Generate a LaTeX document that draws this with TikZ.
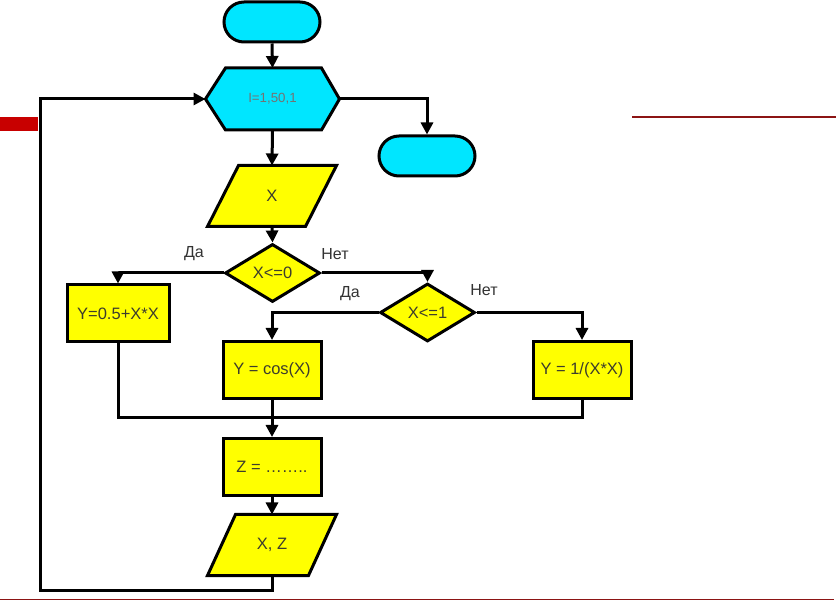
\documentclass[tikz,border=0pt]{standalone}
\usepackage{fontspec}
\setmainfont{Liberation Sans}
\usetikzlibrary{shapes.misc,shapes.geometric,arrows.meta}
\definecolor{cy}{RGB}{0,230,255}
\definecolor{yl}{RGB}{255,255,0}
\definecolor{txt}{RGB}{60,60,45}
\definecolor{redbar}{RGB}{200,0,0}
\definecolor{redline}{RGB}{140,20,20}
\begin{document}
\begin{tikzpicture}[x=1pt,y=-1pt,line width=3pt,
  box/.style={rectangle,draw,fill=yl,minimum width=98,minimum height=57,inner sep=0,font=\fontsize{16.5}{18}\selectfont,text=txt},
  term/.style={rounded rectangle,draw,fill=cy,minimum width=96,minimum height=40,inner sep=0},
  dec/.style={diamond,draw,fill=yl,minimum width=95,minimum height=58,inner sep=0,aspect=1.64,font=\fontsize{16.5}{18}\selectfont,text=txt},
  frame/.style={rectangle,draw=none,inner sep=0},
  txtnode/.style={font=\fontsize{16.5}{18}\selectfont,text=txt,inner sep=0},
  lbl/.style={font=\fontsize{16}{18}\selectfont,text=black!80,inner sep=0},
  arr/.style={-{Triangle[length=12pt,width=12pt]}}
]
\useasboundingbox (0,0) rectangle (836,601);
\fill[white] (0,0) rectangle (836,601);
% decorations
\fill[redbar] (0,117) rectangle (38,131);
\draw[redline,line width=1.2pt] (632,117) -- (836,117);
\draw[redline,line width=1.5pt] (0,599.5) -- (834,599.5);

% nodes
\node[term] (start) at (272,22) {};
\node[frame,minimum width=131,minimum height=59] (loop) at (272.5,99) {};
\filldraw[fill=cy] (loop.west) -- ([xshift=20]loop.north west) -- ([xshift=-18]loop.north east) -- (loop.east) -- ([xshift=-18]loop.south east) -- ([xshift=20]loop.south west) -- cycle;
\node[font=\fontsize{13.3}{15}\selectfont,text=black!55,inner sep=0] (loopt) at (loop) {I=1,50,1};
\node[term] (end) at (427,156) {};

\node[frame,minimum width=126,minimum height=58] (inx) at (272,196) {};
\filldraw[fill=yl] (inx.south west) -- ([xshift=31]inx.north west) -- (inx.north east) -- ([xshift=-31]inx.south east) -- cycle;
\node[txtnode] (inxt) at (inx) {X};

\node[dec] (d1) at (272.5,273) {X<=0};
\node[box,minimum width=102] (b1) at (118,313.5) {Y=0.5+X*X};
\node[dec] (d2) at (427.5,312.5) {X<=1};
\node[box] (b2) at (272,370) {Y = cos(X)};
\node[box] (b3) at (582,370) {Y = 1/(X*X)};
\node[box] (z) at (272,467) {Z = ……..};

\node[frame,minimum width=126,minimum height=58] (out) at (272,545) {};
\filldraw[fill=yl] (out.south west) -- ([xshift=28]out.north west) -- (out.north east) -- ([xshift=-28]out.south east) -- cycle;
\node[txtnode] (outt) at (out) {X, Z};

% labels
\node[lbl] (da1) at (194,254) {Да};
\node[lbl] (net1) at (335,254) {Нет};
\node[lbl] (da2) at (350,294) {Да};
\node[lbl] (net2) at (484,290) {Нет};

% connectors
\draw[arr] (start.south) -- (loop.north);
\draw[arr] (loop.east) -| (end.north);
\draw[arr] (loop.south) -- (inx.north);
\draw[arr] (inx.south) -- (d1.north);
\draw[arr] (d1.west) -| (b1.north);
\draw[arr] (d1.east) -| (d2.north);
\draw[arr] (d2.west) -| (b2.north);
\draw[arr] (d2.east) -| (b3.north);
\coordinate (m) at (272,418);
\draw (b1.south) |- (m);
\draw (b3.south) |- (m);
\draw[arr] (b2.south) -- (z.north);
\draw[arr] (z.south) -- (out.north);
\coordinate (c1) at (40,590);
\draw[arr] (out.south) |- (c1) |- (loop.west);
\end{tikzpicture}
\end{document}
